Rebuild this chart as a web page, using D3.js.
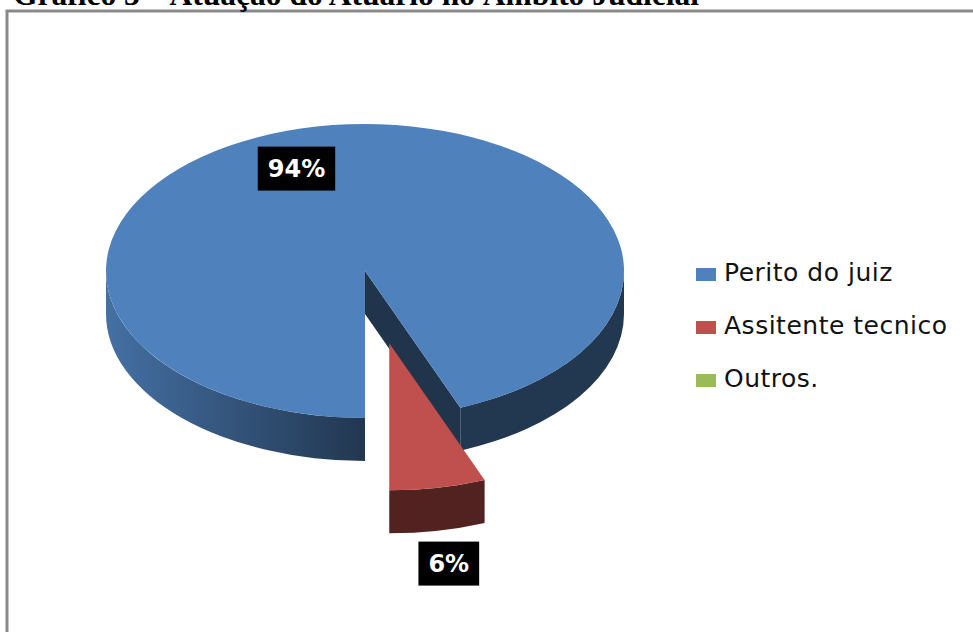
<!DOCTYPE html>
<html>
<head>
<meta charset="utf-8">
<script src="https://cdn.jsdelivr.net/npm/d3@7"></script>
<style>
  body { margin: 0; background: #fff; }
  svg { display: block; }
</style>
</head>
<body>
<div id="chart"></div>
<script>
// Chart data
var categories = ["Perito do juiz", "Assitente tecnico", "Outros."];
var values = [94, 6, 0];
var labels = ["94%", "6%", ""];
var colors = ["#4F81BD", "#C0504D", "#9BBB59"];
var exploded = [0, 0.5, 0];
var title = "Gráfico 3 – Atuação do Atuário no Âmbito Judicial";

var width = 973, height = 632;

var svg = d3.select("#chart")
  .append("svg")
  .attr("width", width)
  .attr("height", height);

svg.append("rect")
  .attr("width", width)
  .attr("height", height)
  .attr("fill", "#fff");

// Frame around the chart (right and bottom run off the page)
svg.append("rect")
  .attr("x", 7)
  .attr("y", 11)
  .attr("width", 1000)
  .attr("height", 700)
  .attr("fill", "none")
  .attr("stroke", "#898989")
  .attr("stroke-width", 3);

// Title, clipped at the top like the original
svg.append("text")
  .attr("x", 13)
  .attr("y", 5)
  .attr("font-family", "'Liberation Serif', 'Times New Roman', serif")
  .attr("font-weight", "bold")
  .attr("font-size", 31.5)
  .attr("fill", "#000")
  .text(title);

// 3D pie geometry
var cx = 365, cy = 271, rx = 259, ry = 147, depth = 43;

var pie = d3.pie()
  .sort(null)
  .startAngle(Math.PI)
  .endAngle(3 * Math.PI);

var arcs = pie(values);

function pt(a, r, off) {
  return [cx + off[0] + rx * r * Math.sin(a), cy + off[1] - ry * r * Math.cos(a)];
}

var defs = svg.append("defs");

var pieG = svg.append("g").attr("class", "pie");

arcs.forEach(function(d, i) {
  if (d.endAngle - d.startAngle <= 0) return;
  var mid = (d.startAngle + d.endAngle) / 2;
  var off = [rx * exploded[i] * Math.sin(mid), -ry * exploded[i] * Math.cos(mid)];
  var base = d3.color(colors[i]);

  // side shading: lighter on the left, dark toward the middle and right
  var gid = "side" + i;
  var grad = defs.append("linearGradient")
    .attr("id", gid)
    .attr("gradientUnits", "userSpaceOnUse")
    .attr("x1", cx - rx).attr("x2", cx)
    .attr("y1", 0).attr("y2", 0);
  grad.append("stop").attr("offset", 0).attr("stop-color", base.darker(0.4));
  grad.append("stop").attr("offset", 1).attr("stop-color", base.darker(2.4));
  var dark = base.darker(2.55);

  var g = pieG.append("g");

  // radial wall at the end of the slice
  if (Math.sin(d.endAngle) > 0.01) {
    var c0 = pt(0, 0, off), p1 = pt(d.endAngle, 1, off);
    g.append("path")
      .attr("d", "M" + c0 + "L" + p1 + "L" + [p1[0], p1[1] + depth] +
        "L" + [c0[0], c0[1] + depth] + "Z")
      .attr("fill", dark);
  }
  // radial wall at the start of the slice
  if (Math.sin(d.startAngle) < -0.01) {
    var c1 = pt(0, 0, off), p0 = pt(d.startAngle, 1, off);
    g.append("path")
      .attr("d", "M" + c1 + "L" + p0 + "L" + [p0[0], p0[1] + depth] +
        "L" + [c1[0], c1[1] + depth] + "Z")
      .attr("fill", dark);
  }

  // outer rim, only the front half is visible
  [0, 1].forEach(function(k) {
    var lo = Math.max(d.startAngle, Math.PI / 2 + 2 * Math.PI * k);
    var hi = Math.min(d.endAngle, 3 * Math.PI / 2 + 2 * Math.PI * k);
    if (hi - lo <= 0.001) return;
    var a = pt(lo, 1, off), b = pt(hi, 1, off);
    g.append("path")
      .attr("d", "M" + a +
        "A" + rx + "," + ry + " 0 0 1 " + b +
        "L" + [b[0], b[1] + depth] +
        "A" + rx + "," + ry + " 0 0 0 " + [a[0], a[1] + depth] + "Z")
      .attr("fill", "url(#" + gid + ")");
  });

  // top face
  var s = pt(d.startAngle, 1, off), e = pt(d.endAngle, 1, off);
  var large = (d.endAngle - d.startAngle) > Math.PI ? 1 : 0;
  g.append("path")
    .attr("d", "M" + pt(0, 0, off) + "L" + s +
      "A" + rx + "," + ry + " 0 " + large + " 1 " + e + "Z")
    .attr("fill", colors[i]);
});

// data labels in black boxes
var labelShift = [[-20, 42], [11, 76]];
arcs.forEach(function(d, i) {
  if (!labels[i]) return;
  var mid = (d.startAngle + d.endAngle) / 2;
  var off = [rx * exploded[i] * Math.sin(mid), -ry * exploded[i] * Math.cos(mid)];
  var p = pt(mid, 1, off);
  var x = p[0] + labelShift[i][0], y = p[1] + labelShift[i][1];
  var lg = svg.append("g").attr("transform", "translate(" + x + "," + y + ")");
  var box = lg.append("rect").attr("fill", "#000");
  var t = lg.append("text")
    .attr("text-anchor", "middle")
    .attr("dy", "0.36em")
    .attr("font-family", "'DejaVu Sans', sans-serif")
    .attr("font-weight", "bold")
    .attr("font-size", 24)
    .attr("fill", "#fff")
    .text(labels[i]);
  var bb = t.node().getBBox();
  box.attr("x", bb.x - 10).attr("y", -22)
    .attr("width", bb.width + 20).attr("height", 44);
});

// legend
var legend = svg.append("g")
  .selectAll("g")
  .data(categories)
  .join("g")
  .attr("transform", function(d, i) { return "translate(696," + (281 + i * 53) + ")"; });

legend.append("rect")
  .attr("x", 0)
  .attr("y", -13)
  .attr("width", 20)
  .attr("height", 13)
  .attr("fill", function(d, i) { return colors[i]; });

legend.append("text")
  .attr("x", 28)
  .attr("y", 0)
  .attr("font-family", "'DejaVu Sans', sans-serif")
  .attr("font-size", 25)
  .attr("letter-spacing", 0.5)
  .attr("fill", "#111")
  .text(function(d) { return d; });
</script>
</body>
</html>
